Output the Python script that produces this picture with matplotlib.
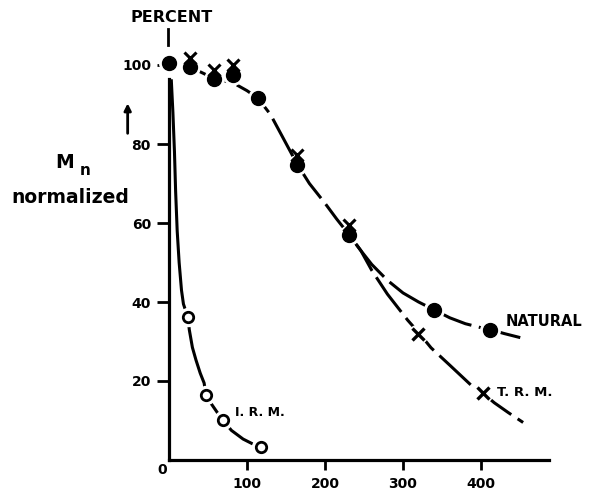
import matplotlib.pyplot as plt

# measured points
natural_t = [0, 27, 58, 82, 164, 114, 231, 340, 412]
natural_m = [100.5, 99.5, 96.5, 97.5, 74.8, 91.6, 57, 38, 33]

trm_t = [27, 58, 82, 164, 231, 319, 402]
trm_m = [101.8, 98.8, 99.9, 77.2, 59.4, 32, 17]

irm_t = [24.4, 47.5, 69, 118]
irm_m = [36.2, 16.5, 10.1, 3.3]

# hand-drawn curves through the points
natural_curve_t = [27, 45, 58, 82, 100, 114, 130, 145, 164, 180, 200, 215, 231,
                   246, 260, 280, 300, 320, 340, 360, 380, 400, 412, 430, 454]
natural_curve_m = [99.5, 97.8, 96.5, 95.5, 93.5, 91.6, 87.5, 82, 75, 70, 65, 61, 57,
                   53, 49.5, 45.5, 42.3, 40, 38, 36, 34.5, 33.5, 33, 32, 30.8]

trm_curve_t = [231, 246, 260, 280, 306, 319, 336, 360, 387, 402, 417, 435, 454]
trm_curve_m = [57, 53, 48, 42, 35.4, 32.5, 28.4, 24, 19, 17, 14.5, 12, 9.5]

irm_curve_t = [3, 5, 7, 8.5, 10.5, 13, 16, 18.5, 21, 24.4, 26, 30, 34.6, 40, 45, 47.5,
               55, 62, 69, 80, 95, 108, 118]
irm_curve_m = [96, 88, 78, 68, 58, 50, 43, 39.5, 38, 36.2, 33, 28.5, 25.3, 22, 19.5, 16.5,
               14, 12, 10.1, 7.5, 5.3, 4, 3.3]

xticks = [100, 200, 300, 400]
yticks = [20, 40, 60, 80, 100]

plt.rcParams['font.family'] = 'DejaVu Sans'
plt.rcParams['font.weight'] = 'bold'

fig = plt.figure(figsize=(6.03, 4.93), dpi=100)
ax = fig.add_axes([169 / 603, 1 - 460 / 493, 390 / 603, (115 * 3.95) / 493])
ax.set_xlim(0, 500)
ax.set_ylim(0, 115)

lw = 2.2
dash = (0, (14, 2.5))
ax.plot(natural_curve_t, natural_curve_m, color='black', lw=lw, linestyle=dash, zorder=2)
ax.plot(trm_curve_t, trm_curve_m, color='black', lw=lw, linestyle=dash, zorder=2)
ax.plot(irm_curve_t, irm_curve_m, color='black', lw=lw, zorder=2)

# white halos break the lines around each mark
ax.plot(natural_t, natural_m, 'o', ms=14, color='white', zorder=3, clip_on=False)
ax.plot(trm_t[5:], trm_m[5:], 'o', ms=13.5, color='white', zorder=3, clip_on=False)
ax.plot(irm_t, irm_m, 'o', ms=13, color='white', zorder=3, clip_on=False)

ax.plot(trm_t[:5], trm_m[:5], 'x', ms=8, mew=2.2, color='black', zorder=4, clip_on=False)
ax.plot(trm_t[5:], trm_m[5:], 'x', ms=8.5, mew=2.4, color='black', zorder=4, clip_on=False)
ax.plot(natural_t, natural_m, 'o', ms=10, color='black', zorder=5, clip_on=False)
ax.plot(irm_t, irm_m, 'o', ms=7.5, mfc='white', mec='black', mew=2.0, zorder=5, clip_on=False)

for side in ['top', 'right']:
    ax.spines[side].set_visible(False)
ax.spines['left'].set_linewidth(2.3)
ax.spines['bottom'].set_linewidth(2.3)
ax.spines['left'].set_bounds(0, 96.5)
ax.spines['bottom'].set_bounds(0, 487)

ax.set_xticks(xticks)
ax.set_xticklabels([str(v) for v in xticks], fontsize=10, fontweight='bold')
ax.set_yticks(yticks)
ax.set_yticklabels([str(v) for v in yticks], fontsize=10, fontweight='bold')
ax.tick_params(axis='x', length=7, width=2, direction='out', pad=5)
ax.tick_params(axis='y', length=9, width=2, direction='out', pad=4)

ax.text(-2, -2.5, '0', ha='right', va='center', fontsize=10, fontweight='bold')

# small mark above the axis and the unit label
ax.plot([-1, -1], [105, 109], color='black', lw=2, clip_on=False)
ax.text(4, 112, 'PERCENT', ha='center', va='center', fontsize=11.5, fontweight='bold')

ax.annotate('', xy=(-53, 91), xytext=(-53, 82), annotation_clip=False,
            arrowprops=dict(arrowstyle='-|>', color='black', lw=2, mutation_scale=10))
ax.text(-146, 75.2, 'M', ha='left', va='center', fontsize=13.5, fontweight='bold')
ax.text(-115, 73.3, 'n', ha='left', va='center', fontsize=11, fontweight='bold')
ax.text(-127, 66.5, 'normalized', ha='center', va='center', fontsize=13.5, fontweight='bold')

ax.text(432, 35, 'NATURAL', ha='left', va='center', fontsize=10.5, fontweight='bold')
ax.text(421, 17, 'T. R. M.', ha='left', va='center', fontsize=9.5, fontweight='bold')
ax.text(85, 12, 'I. R. M.', ha='left', va='center', fontsize=9, fontweight='bold')

fig.savefig('out.png', dpi=100)
